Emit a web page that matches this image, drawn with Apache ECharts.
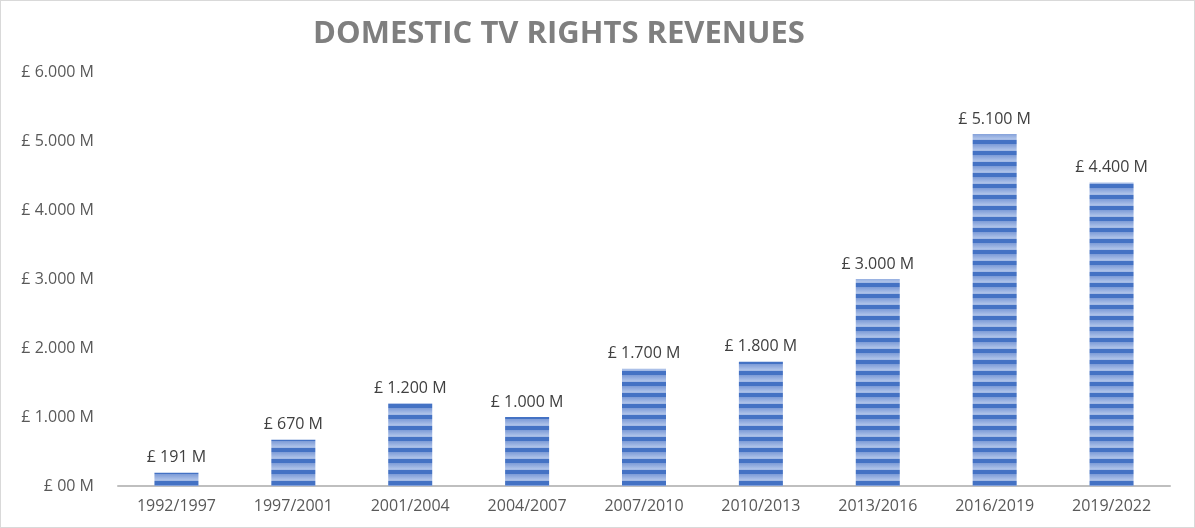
<!DOCTYPE html>
<html>
<head>
<meta charset="utf-8">
<script src="https://cdn.jsdelivr.net/npm/echarts@6/dist/echarts.min.js"></script>
<style>
html, body { margin: 0; padding: 0; background: #fff; }
#main { width: 1195px; height: 528px; box-sizing: border-box; border: 1px solid #d9d9d9; }
</style>
</head>
<body>
<div id="main"></div>
<script>
var periods = ['1992/1997', '1997/2001', '2001/2004', '2004/2007', '2007/2010', '2010/2013', '2013/2016', '2016/2019', '2019/2022'];
var revenues = [191, 670, 1200, 1000, 1700, 1800, 3000, 5100, 4400];

// pounds with dot as thousands separator
function money(v) {
    if (v == 0) return '£ 00 M';
    var s = String(v).replace(/\B(?=(\d{3})+(?!\d))/g, '.');
    return '£ ' + s + ' M';
}

// horizontal stripe pattern for bars
function stripes() {
    var c = document.createElement('canvas');
    c.width = 4;
    c.height = 11;
    var ctx = c.getContext('2d');
    var g = ctx.createLinearGradient(0, 0, 0, 11);
    g.addColorStop(0, '#7c9bd7');
    g.addColorStop(0.5, '#abc0e8');
    g.addColorStop(1, '#7c9bd7');
    ctx.fillStyle = g;
    ctx.fillRect(0, 0, 4, 11);
    ctx.fillStyle = '#4472c4';
    ctx.fillRect(0, 7, 4, 4);
    return c;
}

var chart = echarts.init(document.getElementById('main'));
chart.setOption({
    backgroundColor: '#fff',
    animation: false,
    title: {
        text: 'DOMESTIC TV RIGHTS REVENUES',
        left: 553,
        textAlign: 'center',
        top: 13,
        textStyle: {
            fontFamily: 'Open Sans',
            fontWeight: 'bold',
            fontSize: 31,
            color: '#7f7f7f'
        }
    },
    grid: { left: 117, right: 24, top: 71, bottom: 41, containLabel: false },
    xAxis: {
        type: 'category',
        data: periods,
        axisLine: { lineStyle: { color: '#bfbfbf', width: 2 } },
        axisTick: { show: false },
        axisLabel: { color: '#595959', fontSize: 16, fontFamily: 'Open Sans', margin: 12 }
    },
    yAxis: {
        type: 'value',
        min: 0,
        max: 6000,
        interval: 1000,
        splitLine: { show: false },
        axisLine: { show: false },
        axisTick: { show: false },
        axisLabel: {
            color: '#595959',
            fontSize: 16,
            fontFamily: 'Open Sans',
            margin: 24,
            formatter: money
        }
    },
    series: [{
        type: 'bar',
        data: revenues,
        barWidth: 44,
        itemStyle: {
            color: { image: stripes(), repeat: 'repeat' }
        },
        label: {
            show: true,
            position: 'top',
            distance: 7,
            color: '#404040',
            fontSize: 16,
            fontFamily: 'Open Sans',
            formatter: function (p) { return money(p.value); }
        }
    }]
});
</script>
</body>
</html>
